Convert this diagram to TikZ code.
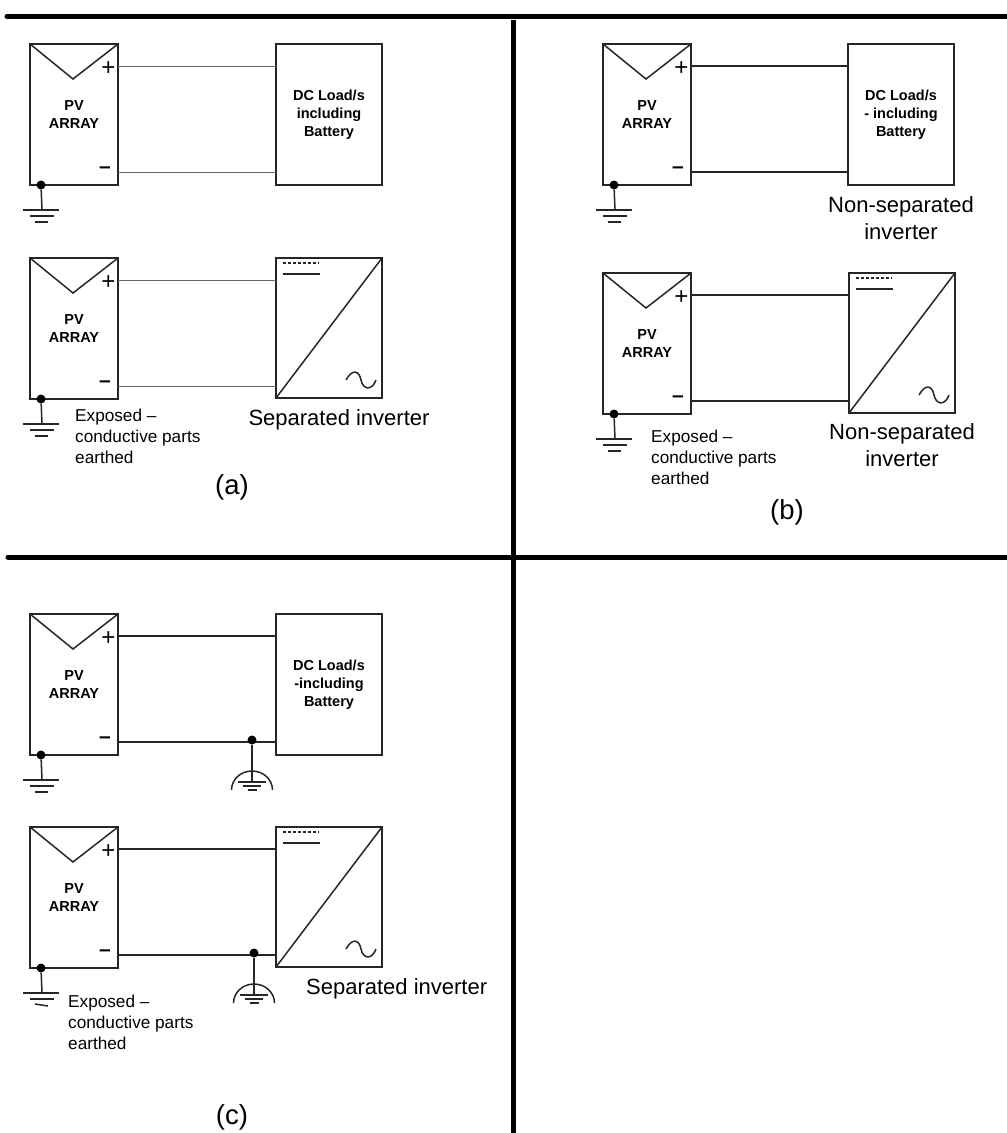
\documentclass[tikz,border=0pt]{standalone}
\usepackage{fontspec}
\setmainfont{Liberation Sans}
\tikzset{
  box/.style={draw=black!85, line width=1.5pt, inner sep=0pt, outer sep=0pt, align=center, font=\fontsize{14.5}{18}\selectfont\bfseries},
  divider/.style={line width=5pt, line cap=round},
  wirethin/.style={draw=black!60, line width=1pt},
  wire/.style={draw=black!85, line width=1.6pt},
  thinline/.style={draw=black!85, line width=1.5pt},
  junction/.style={circle, fill=black, inner sep=0pt, minimum size=9pt},
  conv/.style={font=\fontsize{22}{27}\selectfont, align=center},
  note/.style={font=\fontsize{17.2}{20.7}\selectfont, align=left, anchor=north west, inner sep=0pt},
  panel/.style={font=\fontsize{27.5}{30}\selectfont}
}
% name, left, top, bottom bar tilt
\newcommand{\pvarray}[4]{
  \node[box, minimum width=88pt, minimum height=141pt] (#1) at (#2+44,#3+70.5) {PV\\ARRAY};
  \draw[thinline] (#1.north west) -- (#2+43,#3+35) -- (#1.north east);
  \node[font=\fontsize{24}{24}\selectfont, inner sep=0pt] (#1-plus) at (#2+78.5,#3+24.5) {+};
  \node[font=\fontsize{21}{21}\bfseries\selectfont, inner sep=0pt] (#1-minus) at (#2+75,#3+126) {–};
  \coordinate (#1-pos) at (#2+88,#3+22);
  \coordinate (#1-neg) at (#2+88,#3+128);
  \node[junction] (#1-dot) at (#2+11,#3+141) {};
  \coordinate (#1-gnd) at (#2+12,#3+166);
  \draw[thinline] (#1-dot) -- (#1-gnd);
  \draw[thinline] (#2-7,#3+166) -- (#2+29,#3+166) (#2,#3+172) -- (#2+24,#3+172);
  \draw[thinline] (#2+5,#3+178-#4) -- (#2+18,#3+178+#4);
}
% name, left, top
\newcommand{\inverter}[3]{
  \node[box, minimum width=106pt, minimum height=140pt] (#1) at (#2+53,#3+70) {};
  \draw[thinline] (#1.south west) -- (#1.north east);
  \draw[thinline, dash pattern=on 3pt off 2pt] (#2+7,#3+5) -- (#2+43,#3+5);
  \draw[thinline] (#2+7,#3+16) -- (#2+44,#3+16);
  \draw[thinline] (#2+70,#3+122) .. controls (#2+76,#3+111) and (#2+83,#3+112) .. (#2+85,#3+122)
    .. controls (#2+87,#3+132) and (#2+96,#3+133) .. (#2+100,#3+122);
}
% name, x, y
\newcommand{\funcearth}[3]{
  \node[junction] (#1-dot) at (#2,#3) {};
  \coordinate (#1-gnd) at (#2,#3+42);
  \draw[thinline] (#1-dot) -- (#1-gnd);
  \draw[thinline] (#2-14,#3+42) -- (#2+14,#3+42) (#2-9,#3+46) -- (#2+9,#3+46) (#2-4.5,#3+50) -- (#2+4.5,#3+50);
  \draw[thinline] (#2-20.5,#3+50) arc[start angle=180, end angle=360, x radius=20.5, y radius=19];
}
\begin{document}
\begin{tikzpicture}[x=1pt, y=-1pt]
  \useasboundingbox[fill=white] (0,0) rectangle (1007,1133);
  % dividers
  \draw[divider] (7,16.5) -- (1012,16.5);
  \draw[divider] (8,557) -- (1012,557);
  \draw[divider, line cap=butt] (513,20) -- (513,1133);

  % (a)
  \pvarray{pvaone}{30}{44}{0}
  \node[box, minimum width=106pt, minimum height=141pt] (loada) at (329,114.5) {DC Load/s\\including\\Battery};
  \draw[wirethin] (pvaone-pos) -- (loada.west |- pvaone-pos) (pvaone-neg) -- (loada.west |- pvaone-neg);
  \pvarray{pvatwo}{30}{258}{0}
  \inverter{inva}{276}{258}
  \draw[wirethin] (pvatwo-pos) -- (inva.west |- pvatwo-pos) (pvatwo-neg) -- (inva.west |- pvatwo-neg);
  \node[conv] (labela) at (339,420) {Separated inverter};
  \node[note] (notea) at (75,409) {Exposed –\\conductive parts\\earthed};
  \node[panel] (capa) at (232,487) {(a)};

  % (b)
  \pvarray{pvbone}{603}{44}{0}
  \node[box, minimum width=106pt, minimum height=141pt] (loadb) at (901,114.5) {DC Load/s\\- including\\Battery};
  \draw[wire] (pvbone-pos) -- (loadb.west |- pvbone-pos) (pvbone-neg) -- (loadb.west |- pvbone-neg);
  \node[conv] (labelbone) at (901,218) {Non-separated\\inverter};
  \pvarray{pvbtwo}{603}{273}{0}
  \inverter{invb}{849}{273}
  \draw[wire] (pvbtwo-pos) -- (invb.west |- pvbtwo-pos) (pvbtwo-neg) -- (invb.west |- pvbtwo-neg);
  \node[conv] (labelbtwo) at (902,445) {Non-separated\\inverter};
  \node[note] (noteb) at (651,430) {Exposed –\\conductive parts\\earthed};
  \node[panel] (capb) at (787,512) {(b)};

  % (c)
  \pvarray{pvcone}{30}{614}{0}
  \node[box, minimum width=106pt, minimum height=141pt] (loadc) at (329,684.5) {DC Load/s\\-including\\Battery};
  \draw[wire] (pvcone-pos) -- (loadc.west |- pvcone-pos) (pvcone-neg) -- (loadc.west |- pvcone-neg);
  \funcearth{fecone}{252}{740}
  \pvarray{pvctwo}{30}{827}{1}
  \inverter{invc}{276}{827}
  \draw[wire] (pvctwo-pos) -- (invc.west |- pvctwo-pos) (pvctwo-neg) -- (invc.west |- pvctwo-neg);
  \funcearth{fectwo}{254}{953}
  \node[conv, anchor=west, inner sep=0pt] (labelc) at (306,989) {Separated inverter};
  \node[note] (notec) at (68,995) {Exposed –\\conductive parts\\earthed};
  \node[panel] (capc) at (232,1117) {(c)};
\end{tikzpicture}
\end{document}
